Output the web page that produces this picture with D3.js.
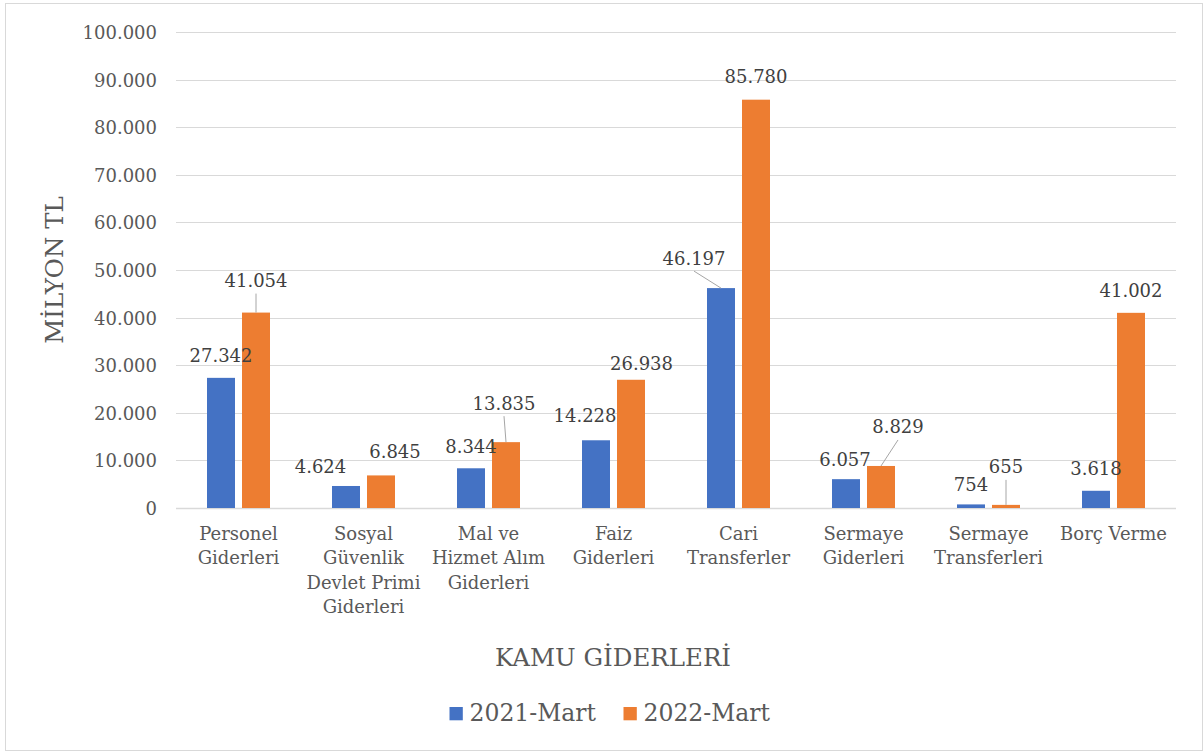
<!DOCTYPE html>
<html lang="tr">
<head>
<meta charset="utf-8">
<script src="https://cdn.jsdelivr.net/npm/d3@7/dist/d3.min.js"></script>
<style>
  html, body { margin: 0; padding: 0; background: #fff; }
  svg { display: block; }
  text { font-family: "DejaVu Serif", "Liberation Serif", serif; }
</style>
</head>
<body>
<svg id="chart" width="1203" height="752"></svg>
<script>
// Kamu giderleri, milyon TL
const categories = [
  ["Personel", "Giderleri"],
  ["Sosyal", "Güvenlik", "Devlet Primi", "Giderleri"],
  ["Mal ve", "Hizmet Alım", "Giderleri"],
  ["Faiz", "Giderleri"],
  ["Cari", "Transferler"],
  ["Sermaye", "Giderleri"],
  ["Sermaye", "Transferleri"],
  ["Borç Verme"]
];
const seriesNames = ["2021-Mart", "2022-Mart"];
const values2021 = [27342, 4624, 8344, 14228, 46197, 6057, 754, 3618];
const values2022 = [41054, 6845, 13835, 26938, 85780, 8829, 655, 41002];
const yTicks = [0, 10000, 20000, 30000, 40000, 50000, 60000, 70000, 80000, 90000, 100000];
const yAxisTitle = "MİLYON TL";
const xAxisTitle = "KAMU GİDERLERİ";

const colors = ["#4472C4", "#ED7D31"];

// Data label placement adjustments (px) and leader-line flags, per series and category
const labelShift = [
  [[0, 0], [-25.5, 2.7], [0, 0], [-11, -3], [-27, -8], [-1, 2], [0, 2.6], [0, 0]],
  [[0, -10], [14, -1.7], [-2, -17], [10.5, 5.5], [0, -1], [17, -17], [0, -16], [0, 0]]
];
const leader = [
  [false, false, false, false, true, false, false, false],
  [true, false, true, false, false, true, true, false]
];

const trLocale = d3.formatLocale({ decimal: ",", thousands: ".", grouping: [3], currency: ["", " TL"] });
const fmt = trLocale.format(",d");

const svg = d3.select("#chart");

// outer chart frame
svg.append("rect")
  .attr("x", 5.5).attr("y", 3.5)
  .attr("width", 1197).attr("height", 747)
  .attr("fill", "#fff").attr("stroke", "#d9d9d9").attr("stroke-width", 1);

const plot = { left: 176, right: 1176, top: 32, bottom: 508 };

const idx = categories.map((_, i) => i);
const x0 = d3.scaleBand().domain(idx).range([plot.left, plot.right]).padding(0);
const x1 = d3.scaleBand().domain([0, 1])
  .range([x0.bandwidth() * 0.248, x0.bandwidth() * 0.752])
  .paddingInner(0.2).paddingOuter(0);
const y = d3.scaleLinear().domain([0, 100000]).range([plot.bottom, plot.top]);

// horizontal gridlines
svg.append("g")
  .selectAll("line")
  .data(yTicks)
  .join("line")
  .attr("x1", plot.left).attr("x2", plot.right)
  .attr("y1", d => Math.round(y(d)) + 0.5).attr("y2", d => Math.round(y(d)) + 0.5)
  .attr("stroke", "#d9d9d9")
  .attr("stroke-width", d => d === 0 ? 1.5 : 1.2);

// y axis labels
const yAxis = d3.axisLeft(y).tickValues(yTicks).tickFormat(fmt).tickSize(0).tickPadding(0);
const gy = svg.append("g").attr("transform", `translate(${plot.left - 19},0)`).call(yAxis);
gy.select(".domain").remove();
gy.selectAll("text")
  .attr("font-family", "DejaVu Serif")
  .attr("font-size", 18)
  .attr("fill", "#595959")
  .attr("dy", "0.36em");

// bars
const series = [values2021, values2022];
series.forEach((vals, s) => {
  svg.append("g")
    .selectAll("rect")
    .data(vals)
    .join("rect")
    .attr("x", (d, i) => x0(i) + x1(s))
    .attr("width", x1.bandwidth())
    .attr("y", d => y(d))
    .attr("height", d => y(0) - y(d))
    .attr("fill", colors[s]);
});

// data labels with leader lines
series.forEach((vals, s) => {
  const g = svg.append("g");
  vals.forEach((v, i) => {
    const cx = x0(i) + x1(s) + x1.bandwidth() / 2;
    const top = y(v);
    const lx = cx + labelShift[s][i][0];
    const ly = top - 22 + labelShift[s][i][1];
    if (leader[s][i]) {
      g.append("line")
        .attr("x1", lx).attr("y1", ly + 13)
        .attr("x2", cx).attr("y2", top)
        .attr("stroke", "#a6a6a6").attr("stroke-width", 1);
    }
    g.append("text")
      .attr("x", lx).attr("y", ly)
      .attr("dy", "0.36em")
      .attr("text-anchor", "middle")
      .attr("font-size", 18)
      .attr("fill", "#404040")
      .text(fmt(v));
  });
});

// category labels
const cat = svg.append("g");
categories.forEach((lines, i) => {
  const t = cat.append("text")
    .attr("x", x0(i) + x0.bandwidth() / 2)
    .attr("y", 540)
    .attr("text-anchor", "middle")
    .attr("font-size", 18)
    .attr("fill", "#595959");
  lines.forEach((ln, k) => {
    t.append("tspan")
      .attr("x", x0(i) + x0.bandwidth() / 2)
      .attr("y", 540 + k * 24.3)
      .text(ln);
  });
});

// axis titles
svg.append("text")
  .attr("x", 613)
  .attr("y", 666)
  .attr("text-anchor", "middle")
  .attr("font-size", 24.5)
  .attr("fill", "#595959")
  .text(xAxisTitle);

svg.append("text")
  .attr("transform", `translate(63,270) rotate(-90)`)
  .attr("text-anchor", "middle")
  .attr("font-size", 24.5)
  .attr("fill", "#595959")
  .text(yAxisTitle);

// legend
const legendItems = [{ x: 449.5 }, { x: 623.5 }];
const lg = svg.append("g");
seriesNames.forEach((name, s) => {
  lg.append("rect")
    .attr("x", legendItems[s].x).attr("y", 707)
    .attr("width", 13.3).attr("height", 13.3)
    .attr("fill", colors[s]);
  lg.append("text")
    .attr("x", legendItems[s].x + 20)
    .attr("y", 721)
    .attr("font-size", 23.5)
    .attr("fill", "#595959")
    .text(name);
});
</script>
</body>
</html>
